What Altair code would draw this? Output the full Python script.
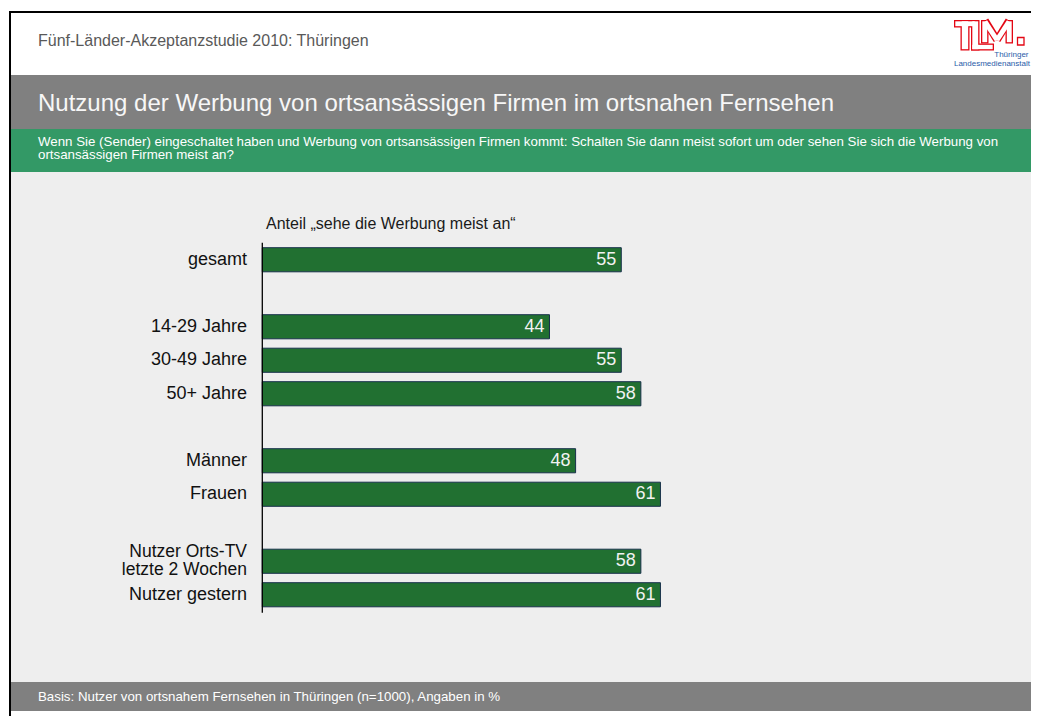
import altair as alt
import pandas as pd

# ---------------- data ----------------
slot_keys = ["gesamt", "gap1", "14-29", "30-49", "50+", "gap2", "m", "f", "gap3", "orts", "gestern"]
bar_keys = ["gesamt", "14-29", "30-49", "50+", "m", "f", "orts", "gestern"]
bar_labels = ["gesamt", "14-29 Jahre", "30-49 Jahre", "50+ Jahre", "Männer", "Frauen",
              "Nutzer Orts-TV\nletzte 2 Wochen", "Nutzer gestern"]
values = [55, 44, 55, 58, 48, 61, 58, 61]

header_text = "Fünf-Länder-Akzeptanzstudie 2010: Thüringen"
title_text = "Nutzung der Werbung von ortsansässigen Firmen im ortsnahen Fernsehen"
question_lines = [
    "Wenn Sie (Sender) eingeschaltet haben und Werbung von ortsansässigen Firmen kommt: Schalten Sie dann meist sofort um oder sehen Sie sich die Werbung von",
    "ortsansässigen Firmen meist an?",
]
annot_text = "Anteil \u201esehe die Werbung meist an\u201c"
footer_text = "Basis: Nutzer von ortsnahem Fernsehen in Thüringen (n=1000), Angaben in %"
logo_lines = ["Thüringer", "Landesmedienanstalt"]

df = pd.DataFrame({"key": bar_keys, "label": bar_labels, "value": values})
df["multi"] = df["label"].str.contains("\n")

W, H = 1023, 708
FONT = "Liberation Sans, Arial, sans-serif"
one = pd.DataFrame({"a": [0]})
RED = "#e30613"


def box(x1, x2, y1, y2, color, **kw):
    return alt.Chart(one).mark_rect(color=color, **kw).encode(
        x=alt.value(x1), x2=alt.value(x2), y=alt.value(y1), y2=alt.value(y2))


def txt(s, x, y, size, color, font=FONT, align="left", **kw):
    return alt.Chart(one).mark_text(
        text=s, font=font, fontSize=size, color=color, align=align, baseline="middle", **kw
    ).encode(x=alt.value(x), y=alt.value(y))


def seg(x1, y1, x2, y2, color, w):
    return alt.Chart(one).mark_rule(color=color, strokeWidth=w, strokeCap="butt").encode(
        x=alt.value(x1), y=alt.value(y1), x2=alt.value(x2), y2=alt.value(y2))


# logo pieces (outer outline red, inner white), drawn in chart pixels
LX = -14  # page -> chart shift for logo (incl. fit inside)
LY = -8
logo_rects = [
    (960, 982, 20, 27.5),      # T bar
    (966.5, 975.5, 20, 50.5),  # T stem
    (977, 985.5, 20, 50.5),    # L stem
    (977, 1000, 43.5, 50.5),   # L foot
    (987, 994.5, 20, 43.5),    # M left stem
    (1011.5, 1019, 20, 43.5),  # M right stem
]
logo_diag = [((991, 20.5), (1003, 40)), ((1015, 20.5), (1003, 40))]
ins = 1.3
logo_layers = []
for (a, b, c, d) in logo_rects:
    logo_layers.append(box(a + LX, b + LX, c + LY, d + LY, RED))
for (p, q) in logo_diag:
    logo_layers.append(seg(p[0] + LX, p[1] + LY, q[0] + LX, q[1] + LY, RED, 7.5))
for (a, b, c, d) in logo_rects:
    logo_layers.append(box(a + LX + ins, b + LX - ins, c + LY + ins, d + LY - ins, "white"))
for (p, q) in logo_diag:
    logo_layers.append(seg(p[0] + LX, p[1] + LY + 1.2, q[0] + LX, q[1] + LY, "white", 5))
logo_layers.append(alt.Chart(one).mark_rect(fill="white", stroke=RED, strokeWidth=1.3).encode(
    x=alt.value(1023.5 + LX), x2=alt.value(1030 + LX), y=alt.value(37.5 + LY), y2=alt.value(45 + LY)))
logo_layers.append(txt(logo_lines[0], 1034.5 + LX, 54.5 + LY, 8, "#2a5ca8", align="right"))
logo_layers.append(txt(logo_lines[1], 1036 + LX, 64 + LY, 8, "#2a5ca8", align="right"))

xs = alt.Scale(domain=[0, 100], range=[254.3, 907.0])
ys = alt.Scale(domain=slot_keys, range=[235, 603.5], paddingInner=0.28, paddingOuter=0.14)

layers = [
    # slide frame and bands
    box(1, W, 3, 5, "black"),
    box(1, 3, 3, H, "black"),
    box(3, W, 67, 121, "#808080"),
    box(3, W, 121, 164, "#339966"),
    box(3, W, 164, 674, "#eeeeee"),
    box(3, W, 674, 703, "#808080"),
    # texts
    txt(header_text, 30, 33, 16, "#595959"),
    txt(title_text, 30, 96, 24, "#f7f7f7"),
    txt(question_lines[0], 30, 133.5, 13.3, "#ffffff"),
    txt(question_lines[1], 30, 147, 13.3, "#ffffff"),
    txt(footer_text, 30, 689, 13.3, "#ffffff"),
    txt(annot_text, 258, 216, 16, "#1a1a1a"),
] + logo_layers

bars = alt.Chart(df).mark_bar(color="#217031", stroke="#17304a", strokeWidth=1).encode(
    x=alt.X("value:Q", scale=xs, axis=None),
    y=alt.Y("key:N", scale=ys, axis=None),
)
vals = alt.Chart(df).mark_text(align="right", baseline="middle", dx=-5, font=FONT,
                               fontSize=18, color="#f2f2f2").encode(
    x=alt.X("value:Q", scale=xs, axis=None),
    y=alt.Y("key:N", scale=ys, axis=None),
    text=alt.Text("value:Q"),
)
cats_single = alt.Chart(df).transform_filter("!datum.multi").mark_text(
    align="right", baseline="middle", font=FONT, fontSize=18, color="#111111").encode(
    x=alt.value(239),
    y=alt.Y("key:N", scale=ys, axis=None),
    text=alt.Text("label:N"),
)
cats_multi = alt.Chart(df).transform_filter("datum.multi").mark_text(
    align="right", baseline="middle", font=FONT, fontSize=17.5, color="#111111",
    lineBreak="\n", lineHeight=18, dy=-9).encode(
    x=alt.value(239),
    y=alt.Y("key:N", scale=ys, axis=None),
    text=alt.Text("label:N"),
)
axis_line = alt.Chart(one).mark_rule(color="black", strokeWidth=1.3).encode(
    x=alt.value(254.3), y=alt.value(234.7), y2=alt.value(604.7))

chart = alt.layer(*layers, bars, vals, cats_single, cats_multi, axis_line).properties(
    width=W, height=H, padding=0, autosize="none", background="white"
).configure_view(stroke=None)

chart.save("out.html", embed_options={"renderer": "svg", "actions": False})
